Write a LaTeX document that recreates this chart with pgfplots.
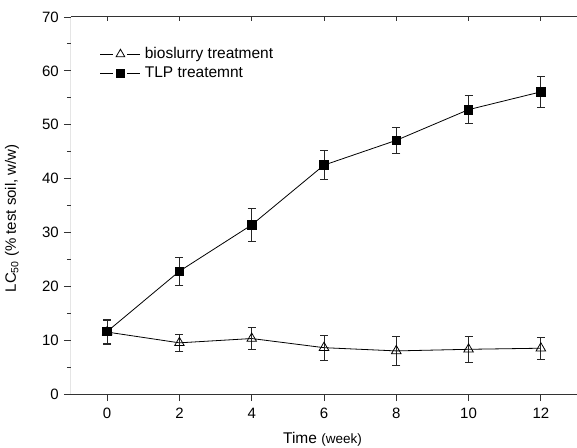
\documentclass[border=0pt]{standalone}
\usepackage{pgfplots}
\pgfplotsset{compat=1.18}
\usepackage{pgfplotstable}
\usepackage{fontspec}
\setmainfont{Liberation Sans}
\pgfplotstableread{
x y e
0 11.5 2.2
2 9.5 1.6
4 10.3 2.0
6 8.6 2.3
8 8.0 2.7
10 8.3 2.4
12 8.5 2.0
}\bio
\pgfplotstableread{
x y e
0 11.6 2.2
2 22.8 2.6
4 31.4 3.0
6 42.5 2.7
8 47.1 2.4
10 52.8 2.6
12 56.1 2.8
}\tlp
\begin{document}
\fontsize{15bp}{18bp}\selectfont
\begin{tikzpicture}
\begin{axis}[
  scale only axis, width=506bp, height=377bp,
  at={(0,0)}, anchor=south west,
  xmin=-1, xmax=13, ymin=0, ymax=70,
  xtick={0,2,...,12}, ytick={0,10,...,70}, minor ytick={5,15,...,65},
  tick align=outside, xtick pos=bottom, ytick pos=left,
  major tick length=7bp, minor tick length=4bp,
  axis line style={draw=none},
  tick style={color=black!80, line width=0.9bp},
  /pgf/number format/assume math mode=true,
  ticklabel style={font=\fontsize{15bp}{18bp}\selectfont},
  xticklabel style={yshift=-2bp},
  xlabel={Time {\fontsize{13.5bp}{15bp}\selectfont (week)}},
  xlabel style={at={(axis description cs:0.497,0)}, anchor=base, yshift=-49bp, font=\fontsize{15.5bp}{18bp}\selectfont},
  ylabel={LC\textsubscript{50} (\% test soil, w/w)},
  ylabel style={at={(axis description cs:0,0.466)}, anchor=center, yshift=59bp, font=\fontsize{15bp}{18bp}\selectfont},
  legend style={at={(axis description cs:0.057,0.925)}, anchor=north west, draw=none, fill=none,
    font=\fontsize{15.5bp}{18bp}\selectfont, row sep=2bp, inner sep=0pt,
    nodes={inner xsep=4bp}},
  legend cell align=left,
  legend image code/.code={\draw (0bp,0bp) -- (13bp,0bp) (27bp,0bp) -- (40bp,0bp); \draw[every mark/.append style={scale=0.9}] plot coordinates {(20bp,0bp)};},
  error bars/error bar style={line width=0.8bp, color=black!85},
  error bars/error mark options={rotate=90, mark size=4bp, line width=0.8bp, color=black!85},
]
\draw[line width=1bp, color=black!80] (rel axis cs:0,1) -- (rel axis cs:0,0) -- (rel axis cs:1,0);
\draw[line width=1bp, color=black!80] (rel axis cs:0,1) -- (rel axis cs:1,1);
\pgfplotsinvokeforeach{0,2,4,6,8,10,12}{\draw[line width=0.9bp, color=black!80] (axis cs:#1,70) -- ([yshift=-4bp]axis cs:#1,70);}
\addplot[black, line width=0.8bp, mark=triangle, mark size=5.5bp, mark options={fill=white, line width=0.8bp},
  error bars/.cd, y dir=both, y explicit] table[x=x, y=y, y error=e] {\bio};
\addlegendentry{bioslurry treatment}
\addplot[black, line width=0.8bp, mark=square*, mark size=4.3bp, mark options={fill=black},
  error bars/.cd, y dir=both, y explicit] table[x=x, y=y, y error=e] {\tlp};
\addlegendentry{TLP treatemnt}
\end{axis}
\pgfresetboundingbox
\useasboundingbox (-71bp,-54bp) rectangle (506bp,394bp);
\end{tikzpicture}
\end{document}
